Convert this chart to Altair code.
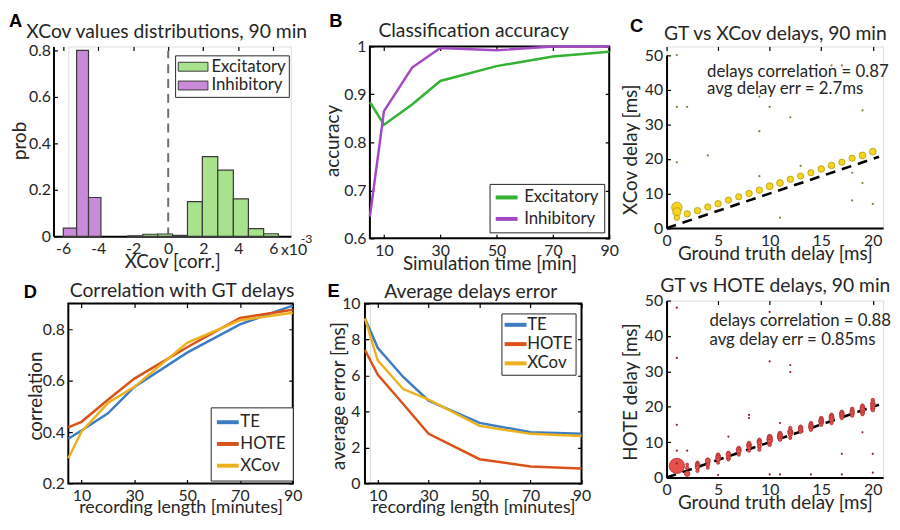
import altair as alt
import pandas as pd

FONT = "Lato"
TXT = "#262626"
FL = 16      # tick labels
FG = 17      # legend labels
FT = 19      # axis titles
FP = 19.5    # panel titles

# ---------------- Panel A: XCov value distributions ----------------
inh_lo = [-5.99, -5.23, -4.55]
inh_hi = [-5.23, -4.55, -3.84]
inh_prob = [0.035, 0.80, 0.167]
exc_lo = [-2.30, -1.45, -0.60, 0.25, 1.10, 1.95, 2.83, 3.72, 4.58, 5.45]
exc_hi = [-1.45, -0.60, 0.25, 1.10, 1.95, 2.83, 3.72, 4.58, 5.45, 6.29]
exc_prob = [0.002, 0.009, 0.010, 0.004, 0.149, 0.343, 0.285, 0.161, 0.033, 0.011]
a_xticks = [-6, -4, -2, 0, 2, 4, 6]
a_yticks = [0, 0.2, 0.4, 0.6, 0.8]

# ---------------- Panel B: classification accuracy ----------------
sim_time = [5, 10, 20, 30, 50, 70, 90]
acc_exc = [0.884, 0.837, 0.879, 0.928, 0.959, 0.979, 0.989]
acc_inh = [0.645, 0.865, 0.956, 0.997, 0.992, 1.0, 1.0]
b_xticks = [10, 30, 50, 70, 90]
b_yticks = [0.6, 0.7, 0.8, 0.9, 1]

# ---------------- Panel D / E: correlation & error ----------------
rec_len = [5, 10, 20, 30, 50, 70, 90]
corr_te = [0.374, 0.406, 0.473, 0.576, 0.709, 0.819, 0.892]
corr_hote = [0.418, 0.440, 0.526, 0.608, 0.730, 0.844, 0.876]
corr_xcov = [0.298, 0.402, 0.513, 0.576, 0.747, 0.835, 0.864]
err_te = [9.17, 7.54, 5.92, 4.60, 3.37, 2.85, 2.76]
err_hote = [7.42, 6.06, 4.42, 2.76, 1.35, 0.95, 0.83]
err_xcov = [9.17, 6.84, 5.25, 4.66, 3.20, 2.76, 2.64]
d_yticks = [0.2, 0.4, 0.6, 0.8]
e_yticks = [0, 2, 4, 6, 8, 10]

# ---------------- Panel C top: GT vs XCov ----------------
xc_gt = [1, 1, 1, 2, 3, 4, 5, 6, 7, 8, 9, 10, 11, 12, 13, 14, 15, 16, 17, 18, 19, 20]
xc_delay = [6.0, 4.7, 3.0, 4.1, 5.05, 6.1, 7.05, 8.1, 9.05, 10.0, 10.95, 12.1, 13.05,
            14.1, 15.05, 16.0, 17.1, 18.1, 19.05, 20.2, 21.0, 22.1]
xc_size = [110, 68, 30, 42, 42, 40, 42, 40, 40, 42, 42, 50, 46, 42, 40, 40, 44, 44, 40, 40, 48, 46]
xc_out_gt = [1, 1, 2, 1, 4, 9, 9, 9, 10, 12, 11, 13, 16, 17, 19, 18, 19, 18, 20]
xc_out_delay = [50, 35, 35, 19, 21, 38, 28, 15, 35, 32, 3, 18, 47, 47, 34, 16, 13, 8, 7]

# ---------------- Panel C bottom: GT vs HOTE ----------------
ho_gt = [1,
         2, 2, 2,
         3, 3, 3, 3, 3,
         4, 4, 4, 4,
         5, 5, 5, 5, 5,
         6, 6, 6, 6,
         7, 7, 7, 7,
         8, 8, 8, 8, 8,
         9, 9, 9, 9, 9,
         10, 10, 10, 10, 10,
         11, 11, 11, 11, 11,
         12, 12, 12, 12, 12,
         13, 13, 13, 13,
         14, 14, 14, 14, 14,
         15, 15, 15, 15, 15,
         16, 16, 16, 16, 16,
         17, 17, 17, 17, 17,
         18, 18, 18, 18,
         19, 19, 19, 19, 19,
         20, 20, 20, 20, 20]
ho_delay = [3.3,
            1.1, 2.8, 3.7,
            4.2, 3.7, 3.3, 2.8, 1.9,
            5.1, 4.7, 3.7, 2.8,
            6.5, 6.1, 5.6, 5.1, 4.2,
            7.0, 6.5, 5.6, 5.1,
            8.4, 7.9, 7.4, 6.5,
            9.8, 9.3, 8.8, 8.4, 7.6,
            10.7, 10.2, 9.8, 8.8, 7.9,
            11.6, 11.2, 10.7, 10.2, 9.3,
            12.6, 12.1, 11.6, 11.2, 10.7,
            14.0, 13.0, 12.6, 12.1, 11.2,
            14.4, 14.0, 13.5, 13.0,
            15.4, 14.9, 14.4, 14.0, 13.5,
            16.8, 16.3, 15.8, 15.4, 14.9,
            17.7, 17.2, 16.8, 16.3, 15.4,
            18.6, 18.2, 17.7, 17.2, 16.8,
            19.4, 18.8, 18.2, 17.5,
            20.3, 19.7, 19.1, 18.4, 17.9,
            21.9, 21.0, 20.3, 19.6, 19.1]
ho_size = [240,
           30, 12, 8,
           12, 18, 22, 18, 12,
           12, 28, 16, 10,
           12, 22, 26, 18, 10,
           12, 24, 20, 10,
           12, 26, 22, 12,
           12, 26, 20, 14, 10,
           12, 22, 20, 16, 12,
           20, 30, 34, 24, 14,
           14, 26, 28, 18, 12,
           12, 26, 24, 16, 10,
           12, 22, 22, 14,
           12, 20, 24, 18, 12,
           14, 24, 26, 18, 12,
           14, 24, 26, 20, 12,
           12, 22, 24, 18, 12,
           14, 20, 22, 12,
           14, 26, 26, 18, 12,
           12, 22, 24, 20, 14]
ho_out_gt = [1, 1, 1, 1, 1, 2, 6, 8, 8, 10, 10, 12, 12, 11, 11, 10, 14, 17, 17, 19, 20, 20, 5]
ho_out_delay = [48, 33.8, 14.9, 7.6, 4.0, 7.6, 11.6, 17.7, 16.8, 46.8, 32.8, 31.8, 29.8,
                15.4, 0.9, 0.9, 0.9, 0.9, 6.7, 12.8, 6.7, 1.4, 0.7]
c_xticks = [0, 5, 10, 15, 20]
c_yticks = [0, 10, 20, 30, 40, 50]
diag = [0, 20.6]

LBL = "'' + datum.value"
TK = 4  # inward tick length


def xaxis(values, title, gd, domain, lp=4.5, tp=-4, tfs=FT):
    return alt.Axis(values=values, tickCount=30, title=title, labelExpr=LBL, ticks=False,
                    grid=True, gridDash=gd, gridColor="black", gridWidth=1.2,
                    domain=domain, domainColor="black", domainWidth=2,
                    labelPadding=lp, titlePadding=tp, labelFont=FONT, titleFont=FONT,
                    labelFontSize=FL, titleFontSize=tfs, labelColor=TXT, titleColor=TXT,
                    titleFontWeight="normal", labelFlush=False, labelOverlap=False)


def yaxis(values, title, gd, domain, tx, ty, lp=4, off=0):
    return alt.Axis(values=values, tickCount=30, title=title, labelExpr=LBL, ticks=False,
                    grid=True, gridDash=gd, gridColor="black", gridWidth=1.2,
                    domain=domain, domainColor="black", domainWidth=2, offset=off,
                    labelPadding=lp, titleX=tx, titleY=ty, titleAngle=-90,
                    titleAlign="center", titleBaseline="middle",
                    labelFont=FONT, titleFont=FONT,
                    labelFontSize=FL, titleFontSize=FT, labelColor=TXT, titleColor=TXT,
                    titleFontWeight="normal", labelFlush=False, labelOverlap=False)


def one(t):
    return pd.DataFrame({"t": [t]})


def ptitle(text, x, y):
    return alt.Chart(one(text)).mark_text(
        font=FONT, fontSize=FP, color=TXT, align="center", baseline="alphabetic").encode(
        text="t:N", x=alt.value(x), y=alt.value(y))


def letter(ch, x, y):
    return alt.Chart(one(ch)).mark_text(
        font="Liberation Sans", fontSize=18.5, fontWeight="bold", color="black",
        align="left", baseline="top").encode(text="t:N", x=alt.value(x), y=alt.value(y))


def note(s, x, y, size=17):
    return alt.Chart(one(s)).mark_text(
        font=FONT, fontSize=size, color=TXT, align="left", baseline="middle").encode(
        text="t:N", x=alt.value(x), y=alt.value(y))


def anchor(x, y):
    return alt.Chart(one("")).mark_rule(opacity=0, strokeWidth=0).encode(
        x=alt.value(x), x2=alt.value(x), y=alt.value(y), y2=alt.value(y))


def line_legend(x, y, pad, rowpad, soff, loff):
    return alt.Legend(title=None, orient="none", legendX=x, legendY=y,
                      strokeColor="#262626", fillColor="white", padding=pad,
                      symbolType="M-1.7,0H1.7", symbolSize=169, symbolStrokeWidth=4,
                      symbolOffset=soff, labelFont=FONT, labelFontSize=FG, labelColor=TXT,
                      rowPadding=rowpad, labelOffset=loff)


BOX = alt.ViewBackground(stroke="black", strokeWidth=2)

# ---------- A ----------
HA = 192
dfA = pd.DataFrame({"lo": exc_lo + inh_lo, "hi": exc_hi + inh_hi,
                    "p": exc_prob + inh_prob,
                    "type": ["Excitatory"] * len(exc_lo) + ["Inhibitory"] * len(inh_lo)})
xsA = alt.Scale(domain=[-6.55, 7.0], nice=False, zero=False, range=[-15, 225])
ysA = alt.Scale(domain=[0, 0.817], nice=False)
barsA = alt.Chart(dfA).mark_bar(stroke="#3a3a3a", strokeWidth=1.2, opacity=1).encode(
    x=alt.X("lo:Q", scale=xsA, axis=xaxis(a_xticks, "XCov [corr.]", [TK, 3000], True)),
    x2="hi:Q",
    y=alt.Y("p:Q", scale=ysA,
            axis=yaxis(a_yticks, "prob", [TK, 3000], True, -34.5, 95, 3, 15)),
    y2=alt.datum(0),
    color=alt.Color("type:N", scale=alt.Scale(domain=["Excitatory", "Inhibitory"],
                                              range=["#a8e28c", "#c98bd9"]),
                    legend=alt.Legend(title=None, orient="none", legendX=108, legendY=9,
                                      strokeColor="#262626", fillColor="white", padding=3,
                                      symbolType="M-2,-0.6H2V0.6H-2Z", symbolSize=225,
                                      symbolOffset=6.7,
                                      symbolStrokeColor="#3a3a3a", symbolStrokeWidth=1,
                                      symbolOpacity=1,
                                      labelFont=FONT, labelFontSize=FG, labelColor=TXT,
                                      rowPadding=1, labelOffset=10)))
zeroA = alt.Chart(pd.DataFrame({"x": [0], "y0": [0], "y1": [0.8]})).mark_rule(
    color="#6e6e6e", strokeWidth=2, strokeDash=[9, 6]).encode(
    x=alt.X("x:Q", scale=xsA), y=alt.Y("y0:Q", scale=ysA), y2="y1:Q")
chartA = alt.layer(zeroA, barsA, letter("A", -60, -35),
                   ptitle("XCov values distributions, 90 min", 99.5, -9),
                   note("x10", 215, 206, 16), note("-3", 235, 195, 12.5),
                   anchor(-60, -35), anchor(252, 234)).properties(width=225, height=HA)

# ---------- B ----------
WB, HB = 242, 194
dfB = pd.DataFrame({"t": sim_time * 2, "acc": acc_exc + acc_inh,
                    "type": ["Excitatory"] * 7 + ["Inhibitory"] * 7})
linesB = alt.Chart(dfB).mark_line(strokeWidth=2.5).encode(
    x=alt.X("t:Q", scale=alt.Scale(domain=[5, 90], nice=False, zero=False),
            axis=xaxis(b_xticks, "Simulation time [min]", [TK, HB - 2 * TK, TK, 3000], False)),
    y=alt.Y("acc:Q", scale=alt.Scale(domain=[0.6, 1], nice=False, zero=False),
            axis=yaxis(b_yticks, "accuracy", [TK, WB - 2 * TK, TK, 3000], False, -38, 95)),
    color=alt.Color("type:N", scale=alt.Scale(domain=["Excitatory", "Inhibitory"],
                                              range=["#33b233", "#a349c6"]),
                    legend=line_legend(121, 139, 5.2, 3.7, 3.6, 9.2)))
chartB = alt.layer(linesB, letter("B", -41, -35),
                   ptitle("Classification accuracy", 105, -9.7),
                   anchor(-51, 0), anchor(252, 236)).properties(width=WB, height=HB, view=BOX)

# ---------- D ----------
WD, HD = 227, 182
meth = ["TE", "HOTE", "XCov"]
mcol = ["#3b7cc4", "#d95319", "#edb120"]
dfD = pd.DataFrame({"t": rec_len * 3, "v": corr_te + corr_hote + corr_xcov,
                    "m": ["TE"] * 7 + ["HOTE"] * 7 + ["XCov"] * 7})
linesD = alt.Chart(dfD).mark_line(strokeWidth=2.5).encode(
    x=alt.X("t:Q", scale=alt.Scale(domain=[5, 90], nice=False, zero=False),
            axis=xaxis(b_xticks, "recording length [minutes]", [TK, HD - 2 * TK, TK, 3000],
                       False, 4, -5, 18)),
    y=alt.Y("v:Q", scale=alt.Scale(domain=[0.2, 0.9], nice=False, zero=False),
            axis=yaxis(d_yticks, "correlation", [TK, WD - 2 * TK, TK, 3000], False, -33, 93, 4)),
    color=alt.Color("m:N", sort=meth, scale=alt.Scale(domain=meth, range=mcol),
                    legend=line_legend(144, 105, 6.5, 4, 2.3, 4.2)))
chartD = alt.layer(linesD, letter("D", -45, -20.5),
                   ptitle("Correlation with GT delays", 115, -7),
                   anchor(0, -24)).properties(width=WD, height=HD, view=BOX)

# ---------- E ----------
HE = 182
dfE = pd.DataFrame({"t": rec_len * 3, "v": err_te + err_hote + err_xcov,
                    "m": ["TE"] * 7 + ["HOTE"] * 7 + ["XCov"] * 7})
xsE = alt.Scale(domain=[5, 90], nice=False, zero=False, range=[-5, 214])
ysE = alt.Scale(domain=[0, 10], nice=False, zero=False)
linesE = alt.Chart(dfE).mark_line(strokeWidth=2.5).encode(
    x=alt.X("t:Q", scale=xsE,
            axis=xaxis(b_xticks, "recording length [minutes]", [TK, HE - 2 * TK, TK, 3000],
                       False, 4, -5, 18)),
    y=alt.Y("v:Q", scale=ysE,
            axis=yaxis(e_yticks, "average error [ms]", [TK, 219 - 2 * TK, TK, 3000], False,
                       -27, 93, 5, 5)),
    color=alt.Color("m:N", sort=meth, scale=alt.Scale(domain=meth, range=mcol),
                    legend=line_legend(133, 10, 3, 1.5, 2.8, 3.2)))
boxE = alt.Chart(pd.DataFrame({"x0": [5], "x1": [90], "y0": [0], "y1": [10]})).mark_rect(
    fill=None, fillOpacity=0, stroke="black", strokeWidth=2).encode(
    x=alt.X("x0:Q", scale=xsE), x2="x1:Q", y=alt.Y("y0:Q", scale=ysE), y2="y1:Q")
chartE = alt.layer(boxE, linesE, letter("E", -43, -22),
                   ptitle("Average delays error", 102, -6),
                   anchor(0, -22)).properties(width=214, height=HE)


# ---------- C panels ----------
def cpanel(gt, dl, sz, og, od, ytitle, fill, edge, outc, ttl, tb, n1, n2, nx, ny1, ny2,
           H, yr, extra, ty):
    W = 219
    xs = alt.Scale(domain=[0, 21], nice=False, zero=False)
    ys = alt.Scale(domain=[0, 50], nice=False, zero=False, range=yr)
    xax = xaxis(c_xticks, "Ground truth delay [ms]", [TK, 3000], True)
    yax = yaxis(c_yticks, ytitle, [TK, 3000], True, -36.4, ty)
    dg = alt.Chart(pd.DataFrame({"a": diag, "b": diag})).mark_line(
        color="black", strokeWidth=2.6, strokeDash=[10, 7]).encode(
        x=alt.X("a:Q", scale=xs, axis=xax), y=alt.Y("b:Q", scale=ys, axis=yax))
    outl = alt.Chart(pd.DataFrame({"a": og, "b": od})).mark_circle(
        size=5, color=outc, opacity=1).encode(x=alt.X("a:Q", scale=xs), y=alt.Y("b:Q", scale=ys))
    pts = alt.Chart(pd.DataFrame({"a": gt, "b": dl, "s": sz})).mark_circle(
        fill=fill, stroke=edge, strokeWidth=0.8, opacity=1).encode(
        x=alt.X("a:Q", scale=xs), y=alt.Y("b:Q", scale=ys),
        size=alt.Size("s:Q", scale=None, legend=None))
    layers = [dg, pts, outl, note(n1, nx, ny1), note(n2, nx, ny2), ptitle(ttl, 110, tb)] + extra
    return alt.layer(*layers).properties(width=W, height=H)


chartC1 = cpanel(xc_gt, xc_delay, xc_size, xc_out_gt, xc_out_delay, "XCov delay [ms]",
                 "#f5d51e", "#b39a12", "#8c7b3e", "GT vs XCov delays, 90 min", -6.3,
                 "delays correlation = 0.87", "avg delay err = 2.7ms", 41, 26.3, 43,
                 183.7, [183.7, 8.7],
                 [letter("C", -37, -29.5), anchor(-46, 0), anchor(0, 227)], 104)
chartC2 = cpanel(ho_gt, ho_delay, ho_size, ho_out_gt, ho_out_delay, "HOTE delay [ms]",
                 "#e8504c", "#a83030", "#8e2a2a", "GT vs HOTE delays, 90 min", -8.7,
                 "delays correlation = 0.88", "avg delay err = 0.85ms", 43.4, 21, 40,
                 179, [179, 0], [anchor(-46, -28)], 92)

col1 = alt.vconcat(chartA, chartD, spacing=0).resolve_scale(color="independent")
col2 = alt.vconcat(chartB, chartE, spacing=0).resolve_scale(color="independent")
col3 = alt.vconcat(chartC1, chartC2, spacing=0)

chart = alt.hconcat(col1, col2, col3, spacing=0).resolve_scale(
    color="independent").properties(padding=0).configure_view(stroke=None).configure(
    font=FONT)

chart.save("out.html", embed_options={"renderer": "svg", "actions": False})
